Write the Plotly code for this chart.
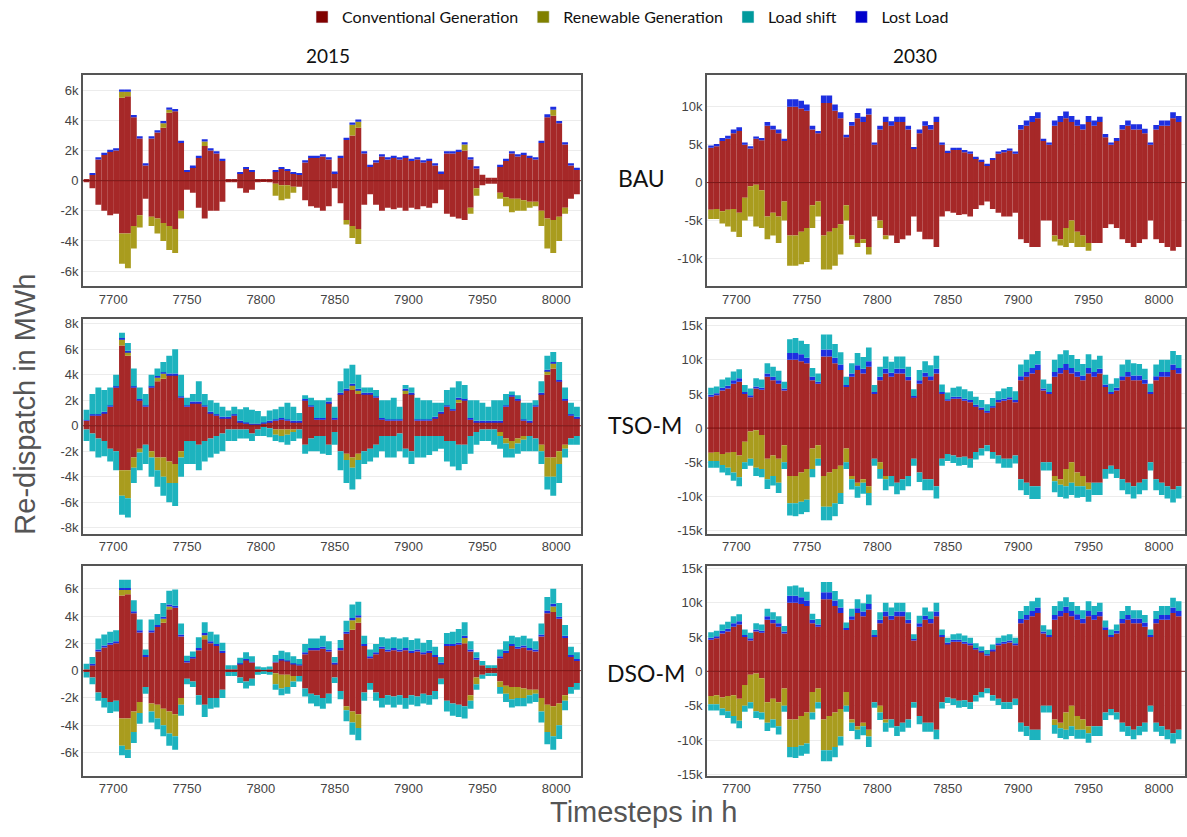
import plotly.graph_objects as go
from plotly.subplots import make_subplots

# ---------------- DATA (values in thousand MWh, 4-hour bins starting at 7680) ----------------
bin_start = list(range(7680, 8016, 4))

# 2015 BAU
bau15_conv_up = [0.1,0.4,1.4,1.7,1.9,2.0,5.5,5.6,4.2,2.8,
                 1.0,2.8,3.2,3.5,4.5,4.6,2.5,0.6,0.9,1.5,
                 2.3,2.0,1.8,1.3,0.1,0.1,0.5,0.8,0.6,0.1,
                 0.05,0.1,0.6,0.8,0.7,0.5,0.4,1.2,1.5,1.5,
                 1.6,1.4,0.5,1.5,2.7,3.0,3.5,1.8,0.9,1.2,
                 1.6,1.4,1.5,1.4,1.5,1.3,1.4,1.2,1.3,1.0,
                 0.5,1.8,1.8,1.9,2.0,1.4,0.8,0.4,0.2,0.2,
                 0.9,1.3,1.8,1.6,1.7,1.5,1.4,2.5,4.2,4.3,
                 3.8,2.4,1.0,0.7]
bau15_conv_dn = [0.1,0.5,1.6,2.0,2.3,2.2,3.5,3.5,3.0,2.3,
                 1.2,2.4,2.5,2.8,3.0,3.2,2.0,0.6,0.8,1.8,
                 2.5,2.0,2.0,1.4,0.1,0.1,0.5,0.8,0.6,0.1,
                 0.05,0.1,0.2,0.3,0.3,0.4,0.4,1.3,1.7,1.8,
                 2.0,1.7,0.5,1.5,2.6,3.0,3.2,1.6,0.9,1.6,
                 2.0,1.8,1.9,1.8,2.0,1.8,1.9,1.7,1.8,1.5,
                 0.6,2.2,2.4,2.5,2.6,1.8,0.5,0.3,0.2,0.2,
                 0.8,1.1,1.2,1.2,1.3,1.4,1.4,2.0,2.5,2.6,
                 2.4,1.8,1.2,0.9]
bau15_ren_up = [0,0,0,0,0,0,0.4,0.3,0,0,
                0,0,0,0.3,0.2,0,0,0,0,0,
                0.3,0,0,0,0,0,0,0,0,0,
                0,0,0,0,0,0,0,0,0,0,
                0,0,0,0,0,0.7,0.4,0,0,0,
                0,0,0,0,0,0,0,0,0,0,
                0,0,0,0,0.4,0,0,0,0,0,
                0,0,0,0,0,0,0,0,0,0.4,
                0,0,0,0]
bau15_ren_dn = [0,0,0,0,0,0,2.0,2.3,1.5,0.8,
                0,0.6,1.0,1.2,1.6,1.6,0.5,0,0,0,
                0,0,0,0,0,0,0,0,0,0,
                0,0,0.8,1.0,0.9,0.4,0,0,0,0,
                0,0,0,0,0.3,0.8,1.0,0,0,0,
                0,0,0,0,0,0,0,0,0,0,
                0,0,0,0,0,0.4,0.5,0,0,0,
                0.4,0.6,0.9,0.8,0.7,0.4,0.3,1.0,2.0,2.2,
                1.6,0.4,0,0]
bau15_lost = [0,0.1,0.15,0.15,0.15,0.15,0.15,0.15,0.15,0.15,
              0.15,0.15,0.15,0.15,0.15,0.15,0.15,0.1,0.1,0.15,
              0.15,0.15,0.15,0.15,0,0,0.05,0.05,0.05,0,
              0,0,0.05,0.05,0.05,0.05,0.05,0.15,0.15,0.15,
              0.15,0.15,0.1,0.15,0.15,0.15,0.15,0.15,0.15,0.15,
              0.15,0.15,0.15,0.15,0.15,0.15,0.15,0.15,0.15,0.15,
              0.1,0.15,0.15,0.15,0.15,0.15,0.15,0,0,0,
              0.15,0.15,0.15,0.15,0.15,0.15,0.15,0.15,0.2,0.2,
              0.15,0.15,0.15,0.15]

# 2015 TSO-M
tso15_conv_up = [0.4,0.8,0.8,1.0,1.5,3.0,6.3,5.5,3.0,2.0,
                 1.5,3.0,3.5,3.7,4.0,4.0,2.2,1.5,1.8,1.8,
                 1.5,1.0,0.8,0.6,0.6,0.8,0.3,0.2,0.1,0.1,
                 0.2,0.3,0.4,0.5,0.4,0.3,0.3,2.0,1.5,0.5,
                 0.5,1.8,0.5,2.5,2.8,2.8,2.5,2.5,2.5,2.2,
                 0.5,0.4,0.4,0.4,2.5,2.5,0.4,0.4,0.4,0.6,
                 1.0,1.5,1.2,1.8,2.0,0.5,0.3,0.3,0.3,0.3,
                 0.3,1.5,2.3,2.0,0.4,0.3,1.5,2.5,4.0,4.5,
                 3.5,2.0,0.8,0.6]
tso15_conv_dn = [0.3,0.6,1.0,1.2,1.8,2.0,3.5,3.5,2.5,1.8,
                 1.5,2.0,2.5,2.5,2.8,3.0,2.0,1.2,1.2,1.5,
                 1.2,1.0,0.8,0.6,0.3,0.3,0.3,0.3,0.6,0.3,
                 0.1,0.2,0.3,0.3,0.3,0.3,0.3,1.5,1.0,0.8,
                 0.8,1.5,0.5,2.0,2.2,2.5,2.2,2.0,1.8,1.5,
                 0.8,0.8,0.8,0.6,1.8,2.0,0.8,0.8,0.8,0.8,
                 0.8,1.2,1.2,1.5,1.5,0.8,0.5,0.3,0.3,0.3,
                 0.5,1.0,1.2,1.0,0.8,0.8,1.0,1.5,2.5,2.5,
                 2.0,1.5,1.0,0.8]
tso15_ren_up = [0,0,0,0,0,0,0.5,0.3,0,0,
                0,0,0.3,0.4,0,0,0,0,0,0,
                0,0,0,0,0,0,0,0,0,0,
                0,0,0,0,0,0,0,0,0,0,
                0,0,0,0,0,0.4,0.3,0,0,0,
                0,0,0,0,0.3,0,0,0,0,0,
                0,0,0,0.3,0,0,0,0,0,0,
                0,0,0,0,0,0,0,0,0.3,0.4,
                0,0,0,0]
tso15_ren_dn = [0,0,0,0,0,0,2.0,2.2,0.8,0.3,
                0,0.5,1.0,1.5,1.7,1.5,0.5,0,0,0,
                0,0,0,0,0,0,0,0,0,0,
                0,0,0.4,0.5,0.4,0.2,0,0,0,0,
                0,0,0,0,0.5,0.8,0.5,0,0,0,
                0,0,0,0,0,0,0,0,0,0,
                0,0,0,0,0,0,0,0,0,0,
                0.3,0.4,0.6,0.4,0.3,0,0,0.5,1.5,1.5,
                1.0,0.3,0,0]
tso15_lost = [0.05,0.1,0.1,0.1,0.1,0.1,0.1,0.1,0.1,0.1,
              0.1,0.1,0.1,0.1,0.1,0.1,0.1,0.1,0.1,0.1,
              0.1,0.1,0.1,0.1,0.1,0.1,0.1,0.05,0.05,0.05,
              0.05,0.1,0.1,0.1,0.1,0.1,0.1,0.1,0.1,0.1,
              0.1,0.1,0.1,0.1,0.1,0.1,0.1,0.1,0.1,0.1,
              0.1,0.1,0.1,0.1,0.1,0.1,0.1,0.1,0.1,0.1,
              0.1,0.1,0.1,0.1,0.1,0.1,0.1,0.1,0.1,0.1,
              0.1,0.1,0.1,0.1,0.1,0.1,0.1,0.1,0.1,0.1,
              0.1,0.1,0.1,0.1]
tso15_shift_up = [0.8,1.6,2.1,1.7,1.4,0.9,0.4,0.6,1.4,0.9,
                  0.9,0.9,0.6,0.8,1.4,1.9,1.7,0.6,0.6,1.6,
                  0.9,0.9,0.9,0.8,0.5,0.6,0.9,1.2,1.1,1.0,
                  0.5,0.8,0.8,0.9,1.3,1.1,0.6,0.3,0.6,1.4,
                  1.4,0.3,0.9,0.9,1.6,1.5,1.1,0.4,0.4,0.5,
                  1.4,1.5,1.7,1.0,0.3,0.4,1.7,1.5,1.5,1.1,
                  0.7,1.2,1.7,1.3,1.1,1.4,1.6,1.4,1.1,1.6,
                  1.6,0.9,0.3,0.3,1.3,1.4,0.4,0.9,1.1,0.8,
                  1.4,0.9,0.9,0.8]
tso15_shift_dn = [0.9,1.4,1.5,1.2,1.0,1.5,1.5,1.5,1.2,1.4,
                  1.5,1.5,1.3,1.5,1.5,1.8,1.5,1.8,1.8,2.0,
                  1.6,1.5,1.4,1.4,0.9,0.9,0.7,0.7,0.6,0.5,
                  0.7,0.7,0.5,0.5,0.8,0.7,0.7,0.7,1.0,1.2,
                  1.4,0.8,1.0,1.5,1.8,1.7,1.5,1.0,1.0,1.0,
                  1.2,1.7,1.7,1.4,0.7,1.0,1.7,1.7,1.5,1.2,
                  1.0,1.6,2.0,2.0,1.5,1.4,1.0,0.9,0.9,1.2,
                  1.0,1.1,0.7,0.8,0.9,1.2,1.0,1.0,1.0,1.5,
                  1.5,0.7,0.5,0.7]

# 2015 DSO-M (generation and lost load read as identical to BAU)
dso15_conv_up = bau15_conv_up
dso15_conv_dn = bau15_conv_dn
dso15_ren_up = bau15_ren_up
dso15_ren_dn = bau15_ren_dn
dso15_lost = bau15_lost
dso15_shift_up = [0.4,0.5,0.8,0.8,0.8,0.8,0.6,0.6,0.8,0.8,
                  0.4,0.8,0.8,1.0,1.0,1.2,0.8,0.4,0.4,0.8,
                  0.8,0.7,0.7,0.6,0.3,0.3,0.4,0.5,0.4,0.2,
                  0.2,0.2,0.5,0.6,0.6,0.5,0.4,0.6,0.7,0.7,
                  0.8,0.6,0.4,0.6,0.8,1.0,1.0,0.6,0.5,0.6,
                  0.7,0.8,0.8,0.8,0.8,0.8,0.8,0.7,0.8,0.6,
                  0.4,0.8,0.9,1.0,1.0,0.6,0.4,0.3,0.2,0.2,
                  0.5,0.7,0.6,0.7,0.7,0.7,0.6,0.8,1.0,1.1,
                  1.0,0.8,0.6,0.5]
dso15_shift_dn = [0.4,0.5,0.6,0.7,0.8,0.8,0.7,0.6,0.8,0.8,
                  0.5,0.8,0.8,0.8,0.9,1.0,0.8,0.4,0.4,0.7,
                  0.9,0.8,0.7,0.6,0.3,0.3,0.4,0.5,0.5,0.2,
                  0.2,0.2,0.4,0.5,0.5,0.4,0.4,0.6,0.7,0.8,
                  0.8,0.7,0.4,0.6,0.8,0.9,0.9,0.6,0.5,0.6,
                  0.7,0.7,0.8,0.7,0.8,0.7,0.7,0.7,0.7,0.6,
                  0.4,0.8,0.9,0.9,0.9,0.6,0.4,0.3,0.2,0.2,
                  0.5,0.6,0.6,0.6,0.6,0.6,0.6,0.8,0.9,1.0,
                  1.0,0.7,0.5,0.5]

# 2030 (generation and lost load read as the same in all three scenarios)
y30_conv_up = [4.6,4.8,5.5,5.8,6.5,6.8,5.0,4.5,5.8,5.6,
               7.5,7.0,6.5,5.5,10.0,10.0,9.8,9.5,7.0,6.5,
               10.5,10.5,9.5,8.5,6.0,7.5,8.5,8.0,9.0,5.0,
               7.0,8.0,7.5,8.0,8.0,7.0,4.5,6.5,7.5,7.0,
               8.0,5.0,4.0,4.3,4.3,4.0,3.8,3.2,2.8,2.3,
               3.0,3.8,4.0,4.2,3.8,7.0,7.5,8.0,8.5,5.5,
               5.0,7.5,8.0,8.5,8.0,7.5,7.0,8.0,7.5,8.0,
               6.0,5.0,5.5,7.0,7.5,7.0,7.0,6.5,5.0,7.0,
               7.5,7.5,8.5,8.0]
y30_lost = [0.3,0.3,0.4,0.4,0.5,0.5,0.3,0.3,0.3,0.3,
            0.5,0.5,0.5,0.3,1.0,1.0,1.0,0.8,0.5,0.3,
            1.0,1.0,0.8,0.8,0.3,0.5,0.7,0.7,0.8,0.3,
            0.5,0.7,0.6,0.7,0.7,0.5,0.2,0.5,0.6,0.6,
            0.7,0.3,0.2,0.3,0.3,0.3,0.3,0.2,0.2,0.2,
            0.2,0.3,0.3,0.3,0.3,0.6,0.7,0.8,0.8,0.3,
            0.3,0.7,0.8,0.9,0.8,0.8,0.7,0.8,0.7,0.7,
            0.4,0.3,0.4,0.6,0.7,0.7,0.7,0.6,0.3,0.6,
            0.7,0.7,0.8,0.8]
y30_conv_dn = [3.6,3.5,3.8,3.6,3.5,4.0,2.0,0.5,0.3,1.0,
               4.5,4.0,4.5,2.5,7.0,7.0,6.5,6.0,3.0,2.5,
               7.0,6.5,6.0,5.5,3.0,7.0,8.0,7.5,8.5,4.5,
               5.0,7.0,7.0,8.0,7.5,7.0,4.5,6.5,7.5,7.5,
               8.5,4.5,3.8,4.0,4.3,4.2,4.5,3.5,3.0,2.5,
               3.5,4.0,4.5,4.5,4.0,7.5,8.0,8.5,8.5,5.0,
               5.0,7.0,7.5,6.0,5.0,6.5,7.0,8.0,8.0,8.0,
               6.0,5.5,6.0,7.5,8.0,8.5,8.0,7.5,5.0,7.5,
               8.0,8.5,9.0,8.5]
y30_ren_dn = [1.2,1.3,1.6,2.2,3.0,3.2,3.0,4.0,5.5,5.0,
              3.0,3.0,3.5,2.5,4.0,4.0,4.3,4.5,3.0,2.0,
              4.5,5.0,5.0,4.0,2.0,0.5,0.5,0.5,1.0,0,
              1.0,0.5,0,0,0,0,0,0,0,0,
              0,0,0,0,0,0,0,0,0,0,
              0,0,0,0,0,0,0,0,0,0,
              0,0.8,0.8,2.5,3.0,2.0,1.5,1.0,0,0,
              0,0,0,0,0,0,0,0,0,0,
              0,0,0,0]
tso30_shift_up = [1.0,1.0,1.2,1.2,1.3,1.3,1.0,1.0,1.2,1.2,
                  1.5,1.5,1.4,1.0,2.0,2.2,2.0,2.0,1.3,1.2,
                  2.2,2.2,2.0,1.8,1.2,1.5,1.8,1.7,2.0,1.0,
                  1.5,1.8,1.6,1.8,1.8,1.5,1.0,1.5,1.7,1.6,
                  1.9,1.1,1.0,1.3,1.5,1.4,1.3,1.2,1.1,1.0,
                  1.2,1.3,1.5,1.5,1.3,1.7,1.8,2.0,2.0,1.3,
                  1.2,1.8,2.0,2.0,1.9,1.8,1.7,2.0,1.8,1.9,
                  1.4,1.2,1.4,1.7,1.8,1.8,1.7,1.6,1.2,1.7,
                  1.8,1.8,2.0,1.9]
tso30_shift_dn = [1.0,1.0,1.1,1.1,1.2,1.3,1.0,1.0,1.2,1.2,
                  1.4,1.4,1.5,1.0,1.8,1.9,1.8,1.8,1.2,1.0,
                  2.0,2.0,1.9,1.6,1.0,1.5,1.7,1.6,1.8,1.0,
                  1.4,1.6,1.5,1.7,1.6,1.5,1.0,1.4,1.6,1.6,
                  1.8,1.0,1.0,1.1,1.2,1.2,1.3,1.1,1.0,0.9,
                  1.0,1.2,1.3,1.3,1.2,1.6,1.8,1.9,1.9,1.2,
                  1.2,1.6,1.8,1.8,1.8,1.7,1.6,1.8,1.8,1.8,
                  1.4,1.2,1.3,1.6,1.7,1.8,1.7,1.6,1.2,1.6,
                  1.8,1.8,1.9,1.8]
dso30_shift_up = [0.8,0.8,0.9,1.0,1.0,1.0,0.8,0.8,0.9,0.9,
                  1.1,1.1,1.0,0.8,1.4,1.5,1.4,1.3,0.9,0.8,
                  1.5,1.5,1.4,1.2,0.8,1.1,1.3,1.2,1.4,0.7,
                  1.1,1.3,1.2,1.3,1.3,1.1,0.7,1.1,1.2,1.1,
                  1.3,0.8,0.7,0.8,0.9,0.9,0.8,0.7,0.6,0.6,
                  0.7,0.8,0.9,0.9,0.8,1.2,1.3,1.4,1.4,0.9,
                  0.8,1.3,1.4,1.4,1.3,1.2,1.2,1.4,1.3,1.3,
                  1.0,0.8,0.9,1.2,1.3,1.2,1.2,1.1,0.8,1.2,
                  1.3,1.3,1.4,1.4]
dso30_shift_dn = [0.9,0.9,1.0,1.0,1.1,1.1,0.9,0.9,1.0,1.0,
                  1.2,1.2,1.2,0.9,1.5,1.6,1.5,1.5,1.0,0.9,
                  1.6,1.6,1.5,1.3,0.9,1.2,1.4,1.3,1.5,0.8,
                  1.1,1.3,1.2,1.4,1.3,1.2,0.8,1.2,1.3,1.3,
                  1.4,0.9,0.8,0.9,1.0,1.0,1.0,0.9,0.8,0.7,
                  0.8,0.9,1.0,1.0,0.9,1.3,1.4,1.5,1.5,1.0,
                  1.0,1.3,1.4,1.4,1.4,1.3,1.3,1.4,1.4,1.4,
                  1.1,0.9,1.0,1.3,1.4,1.4,1.3,1.3,0.9,1.3,
                  1.4,1.4,1.5,1.4]

x_ticks = [7700, 7750, 7800, 7850, 7900, 7950, 8000]
y_ticks_2015 = [-8000, -6000, -4000, -2000, 0, 2000, 4000, 6000, 8000]
y_labels_2015 = ["-8k", "-6k", "-4k", "-2k", "0", "2k", "4k", "6k", "8k"]
y_ticks_2030 = [-15000, -10000, -5000, 0, 5000, 10000, 15000]
y_labels_2030 = ["-15k", "-10k", "-5k", "0", "5k", "10k", "15k"]

series_names = ["Conventional Generation", "Renewable Generation", "Load shift", "Lost Load"]
legend_colors = ["#800000", "#808000", "#00999C", "#0000CC"]
plot_colors = {"conv": "#A62828", "ren": "#A99C1E", "shift": "#1DB3BE", "lost": "#1E2FE0"}

# ---------------- FIGURE ----------------
W, H = 1187, 837
fig = make_subplots(rows=3, cols=2)

panels = [
    dict(r=1, c=1, cu=bau15_conv_up, cd=bau15_conv_dn, ru=bau15_ren_up, rd=bau15_ren_dn, lo=bau15_lost, su=None, sd=None, yr=[-7000, 7000], yt="2015"),
    dict(r=1, c=2, cu=y30_conv_up, cd=y30_conv_dn, ru=None, rd=y30_ren_dn, lo=y30_lost, su=None, sd=None, yr=[-13700, 14200], yt="2030"),
    dict(r=2, c=1, cu=tso15_conv_up, cd=tso15_conv_dn, ru=tso15_ren_up, rd=tso15_ren_dn, lo=tso15_lost, su=tso15_shift_up, sd=tso15_shift_dn, yr=[-8500, 8400], yt="2015"),
    dict(r=2, c=2, cu=y30_conv_up, cd=y30_conv_dn, ru=None, rd=y30_ren_dn, lo=y30_lost, su=tso30_shift_up, sd=tso30_shift_dn, yr=[-15500, 16000], yt="2030"),
    dict(r=3, c=1, cu=dso15_conv_up, cd=dso15_conv_dn, ru=dso15_ren_up, rd=dso15_ren_dn, lo=dso15_lost, su=dso15_shift_up, sd=dso15_shift_dn, yr=[-7700, 7700], yt="2015"),
    dict(r=3, c=2, cu=y30_conv_up, cd=y30_conv_dn, ru=None, rd=y30_ren_dn, lo=y30_lost, su=dso30_shift_up, sd=dso30_shift_dn, yr=[-15200, 15400], yt="2030"),
]

xc = [b + 2 for b in bin_start]

def add_bar(vals, sign, color, r, c):
    fig.add_trace(go.Bar(x=xc, y=[sign * v * 1000 for v in vals], width=4,
                         marker=dict(color=color, line=dict(width=0)),
                         showlegend=False, hoverinfo="skip"), row=r, col=c)

for p in panels:
    r, c = p["r"], p["c"]
    add_bar(p["cu"], 1, plot_colors["conv"], r, c)
    add_bar(p["cd"], -1, plot_colors["conv"], r, c)
    if p["ru"] is not None:
        add_bar(p["ru"], 1, plot_colors["ren"], r, c)
    add_bar(p["rd"], -1, plot_colors["ren"], r, c)
    add_bar(p["lo"], 1, plot_colors["lost"], r, c)
    if p["su"] is not None:
        add_bar(p["su"], 1, plot_colors["shift"], r, c)
        add_bar(p["sd"], -1, plot_colors["shift"], r, c)
    fig.add_hline(y=0, row=r, col=c, line=dict(color="rgba(110,10,10,0.85)", width=1), layer="above")

# legend-only entries
for i, (nm, col) in enumerate(zip(series_names, legend_colors)):
    fig.add_trace(go.Bar(x=[None], y=[None], name=nm, marker=dict(color=col),
                         showlegend=True, legendrank=i + 1, hoverinfo="skip"), row=1, col=1)

xdom = {1: [83 / W, 582 / W], 2: [708 / W, 1.0]}
ydom = {1: [1 - 285 / H, 1 - 71 / H], 2: [1 - 536 / H, 1 - 318 / H], 3: [1 - 781 / H, 1 - 568 / H]}

tickfont = dict(family="Liberation Sans, Arial, sans-serif", size=13, color="#444")
for idx, p in enumerate(panels):
    n = idx + 1
    xa = "xaxis" if n == 1 else f"xaxis{n}"
    ya = "yaxis" if n == 1 else f"yaxis{n}"
    if p["yt"] == "2015":
        tv, tt = y_ticks_2015, y_labels_2015
    else:
        tv, tt = y_ticks_2030, y_labels_2030
    xr = [7679.5, 8016.8] if p["c"] == 1 else [7679.0, 8018.5]
    fig.layout[xa].update(domain=xdom[p["c"]], range=xr, tickvals=x_ticks,
                          showgrid=False, zeroline=False, showline=True, mirror=True,
                          linecolor="#555", linewidth=1.5, ticks="", tickfont=tickfont)
    fig.layout[ya].update(domain=ydom[p["r"]], range=p["yr"], tickvals=tv, ticktext=tt,
                          showgrid=True, gridcolor="#ececec", gridwidth=1, zeroline=False,
                          showline=True, mirror=True, linecolor="#555", linewidth=1.5,
                          ticks="", tickfont=tickfont)

ann_font = dict(family="Lato, Carlito, sans-serif", color="#111")
annotations = [
    dict(text="2015", x=329 / W, y=1 - 51 / H, font=dict(size=19, **ann_font)),
    dict(text="2030", x=917 / W, y=1 - 51 / H, font=dict(size=19, **ann_font)),
    dict(text="BAU", x=643 / W, y=1 - 175 / H, font=dict(size=23, **ann_font)),
    dict(text="TSO-M", x=646 / W, y=1 - 426 / H, font=dict(size=23, **ann_font)),
    dict(text="DSO-M", x=647 / W, y=1 - 677 / H, font=dict(size=23, **ann_font)),
    dict(text="Re-dispatch in MWh", x=25 / W, y=1 - 404 / H, textangle=-90,
         font=dict(size=29, family="Liberation Sans, Arial, sans-serif", color="#555")),
    dict(text="Timesteps in h", x=645 / W, y=1 - 818 / H,
         font=dict(size=29, family="Liberation Sans, Arial, sans-serif", color="#555")),
]
for a in annotations:
    a.update(xref="paper", yref="paper", showarrow=False, xanchor="center", yanchor="middle")

fig.update_layout(
    width=W, height=H, margin=dict(l=0, r=0, t=0, b=0),
    paper_bgcolor="white", plot_bgcolor="white",
    barmode="relative", bargap=0.04,
    annotations=annotations,
    legend=dict(orientation="h", x=0.53, xanchor="center", y=1.006, yanchor="top",
                font=dict(family="Lato, Carlito, sans-serif", size=16, color="#111"),
                traceorder="normal", itemclick=False, bgcolor="rgba(0,0,0,0)"),
    showlegend=True,
)

fig.write_html("out.html", config={"displayModeBar": False},
               post_script="document.body.style.margin='0';document.body.style.padding='0';document.body.style.overflow='hidden';")
